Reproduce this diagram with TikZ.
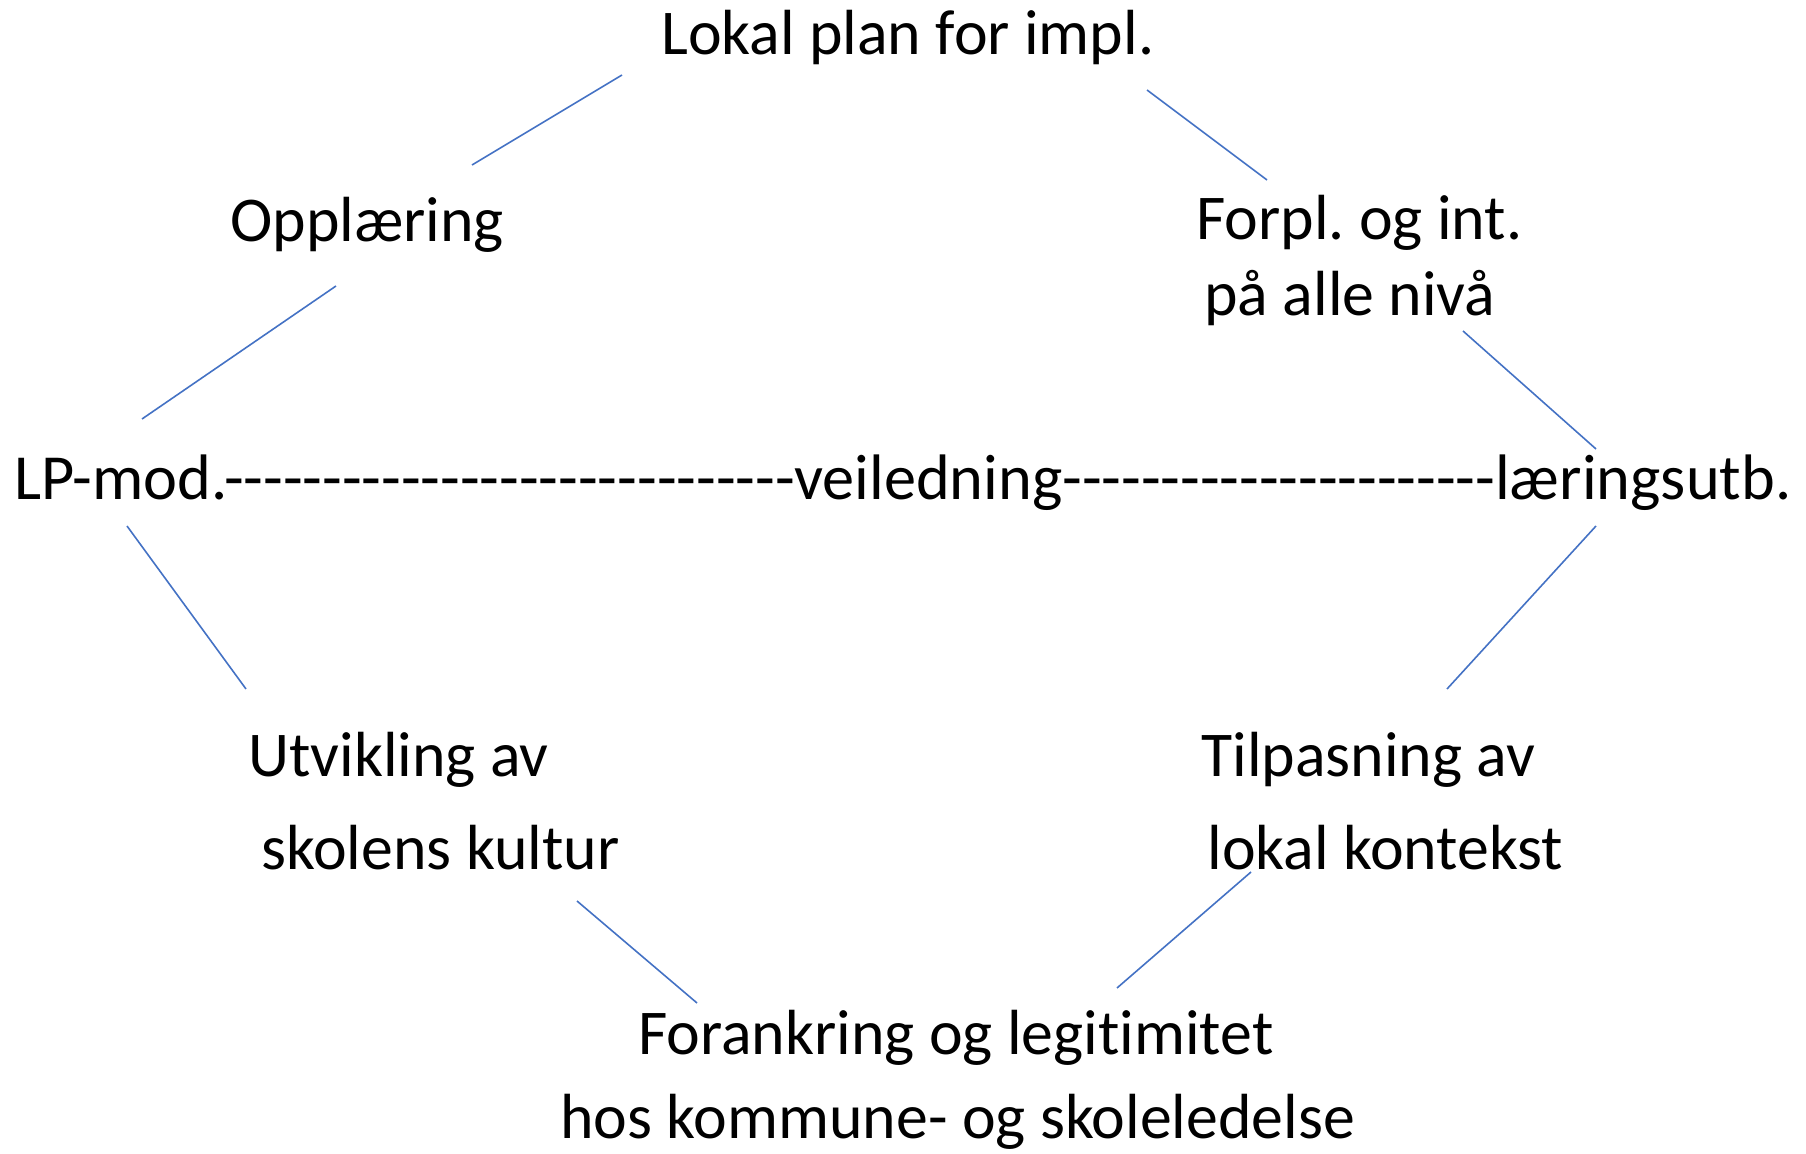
\documentclass[tikz,border=0pt]{standalone}
\usepackage{fontspec}
\setmainfont{Carlito}[Ligatures={TeXOff,NoCommon}]
\frenchspacing
\definecolor{linkblue}{RGB}{68,114,196}
\tikzset{
  lbl/.style={anchor=base west, inner sep=0pt, font=\fontsize{31.9}{36}\selectfont},
  midlbl/.style={lbl, font=\fontsize{32.15}{36}\selectfont},
  conn/.style={draw=linkblue, line width=0.8pt}
}
\begin{document}
\begin{tikzpicture}[x=0.5pt,y=-0.5pt]
\useasboundingbox (0,0) rectangle (1806,1154);
% texts
\node[lbl] (top) at (661,55) {Lokal plan for impl.};
\node[lbl] (opp) at (230,242) {Opplæring};
\node[lbl] (forpl1) at (1196,240) {Forpl. og int.};
\node[lbl] (forpl2) at (1204,316) {på alle nivå};
\node[midlbl] (mid) at (14,500) {LP-mod.-----------------------------veiledning----------------------læringsutb.};
\node[lbl] (utv1) at (248,777) {Utvikling av};
\node[lbl] (utv2) at (261,870) {skolens kultur};
\node[lbl] (tilp1) at (1201,777) {Tilpasning av};
\node[lbl] (tilp2) at (1207,870) {lokal kontekst};
\node[lbl] (for1) at (638,1054) {Forankring og legitimitet};
\node[lbl] (for2) at (560,1138) {hos kommune- og skoleledelse};
% line end points
\coordinate (a1) at (622,75);   \coordinate (a2) at (472,165);
\coordinate (b1) at (1147,90);  \coordinate (b2) at (1267,180);
\coordinate (c1) at (336,286);  \coordinate (c2) at (142,419);
\coordinate (d1) at (1463,331); \coordinate (d2) at (1596,449);
\coordinate (e1) at (127,526);  \coordinate (e2) at (246,689);
\coordinate (f1) at (1596,526); \coordinate (f2) at (1447,689);
\coordinate (g1) at (577,901);  \coordinate (g2) at (697,1003);
\coordinate (h1) at (1251,872); \coordinate (h2) at (1117,988);
\draw[conn] (a1) -- (a2);
\draw[conn] (b1) -- (b2);
\draw[conn] (c1) -- (c2);
\draw[conn] (d1) -- (d2);
\draw[conn] (e1) -- (e2);
\draw[conn] (f1) -- (f2);
\draw[conn] (g1) -- (g2);
\draw[conn] (h1) -- (h2);
\end{tikzpicture}
\end{document}
